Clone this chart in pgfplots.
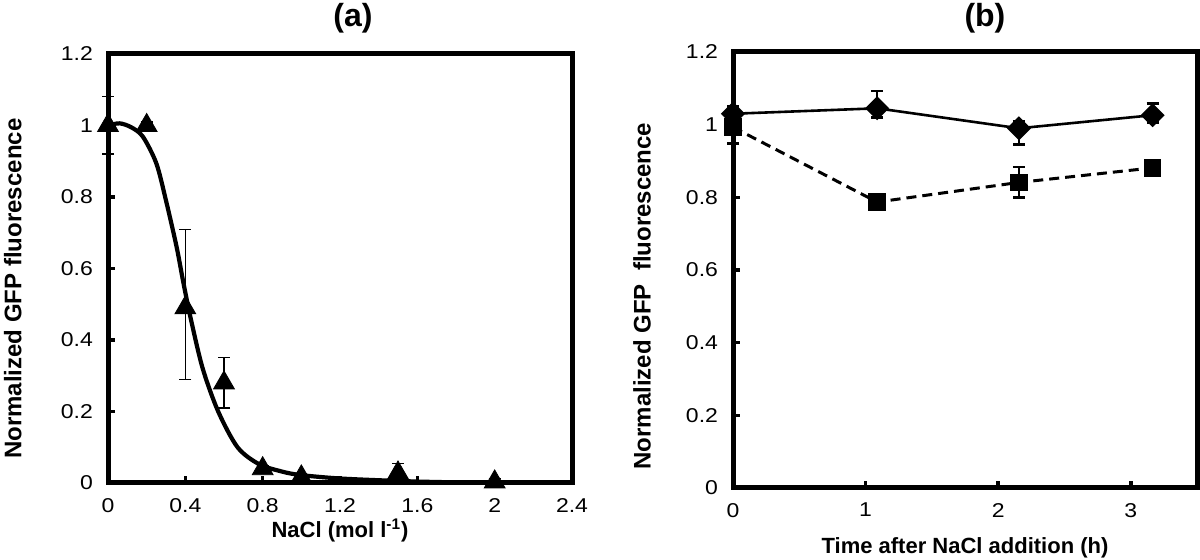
\documentclass[border=0pt]{standalone}
\usepackage{fontspec}
\setmainfont{Liberation Sans}
\newfontfamily\tickfont[FakeStretch=1.15]{Liberation Sans}
\usepackage{pgfplots}
\pgfplotsset{compat=1.18}
\begin{document}
\begin{tikzpicture}
\useasboundingbox (0pt,0pt) rectangle (600pt,280pt);
\pgfplotsset{
  panel/.style={
    scale only axis,
    axis line style={line width=2.5pt, line join=miter},
    clip=false,
    tick align=inside,
    xtick pos=bottom, ytick pos=left,
    major tick length=3.5pt,
    tick style={line width=1.8pt, black},
    /pgf/number format/assume math mode=true,
    tick label style={font=\tickfont\fontsize{10}{12}\selectfont},
    yticklabel style={/pgf/number format/fixed, xshift=-4pt},
    xticklabel style={/pgf/number format/fixed, yshift=-4pt},
    label style={font=\bfseries\fontsize{11}{13}\selectfont},
    title style={font=\bfseries\fontsize{16}{18}\selectfont},
    ymin=0, ymax=1.2,
    ytick={0,0.2,...,1.2},
    yticklabels={0,0.2,0.4,0.6,0.8,1,1.2},
  }
}
% ---------------- panel (a)
\begin{axis}[panel,
  at={(54pt,38.5pt)}, anchor=south west, width=232pt, height=214.5pt,
  xmin=0, xmax=2.4,
  xtick={0,0.4,0.8,1.2,1.6,2,2.4},
  xticklabels={0,0.4,0.8,1.2,1.6,2,2.4},
  xlabel={NaCl (mol l\textsuperscript{-1})},
  ylabel={Normalized GFP fluorescence},
  xlabel style={at={(axis description cs:0.5,-0.11)}, anchor=center},
  ylabel style={font=\bfseries\fontsize{12}{14}\selectfont, at={(axis description cs:-0.205,0.453)}, anchor=center, rotate=0},
  title={(a)},
  title style={at={(axis description cs:0.528,1.0)}, anchor=base, yshift=7.5pt},
]
% error bars
\addplot[black, only marks, mark=none, forget plot,
  error bars/.cd, y dir=both, y explicit,
  error bar style={line width=0.6pt},
  error mark options={rotate=90, mark size=3pt, line width=0.6pt}]
  coordinates {
  (0,1.0) += (0,0.08) -= (0,0.08)
  (0.2,1.0) += (0,0.01) -= (0,0.01)
  (0.4,0.49) += (0,0.22) -= (0,0.20)
  (0.6,0.28) += (0,0.07) -= (0,0.07)
  (0.8,0.04) += (0,0.01) -= (0,0.01)
  (1.0,0.017) += (0,0.01) -= (0,0.01)
  (1.5,0.028) += (0,0.027) -= (0,0.027)
  (2.0,0.003) += (0,0.01) -= (0,0.01)
  };
% fitted curve
\addplot[black, line width=2.1pt, smooth, mark=none] coordinates {
  (0,1.0) (0.06,1.006) (0.12,0.995) (0.18,0.969) (0.25,0.894) (0.30,0.79)
  (0.355,0.66) (0.39,0.56) (0.43,0.455) (0.49,0.32) (0.57,0.20) (0.67,0.10)
  (0.78,0.053) (0.9,0.032) (1.0,0.022) (1.22,0.012) (1.6,0.004) (2.0,0.0)
};
% data points
\addplot[black, only marks, mark=triangle*, mark size=6pt] coordinates {
  (0,1.0) (0.2,1.0) (0.4,0.49) (0.6,0.28) (0.8,0.04) (1.0,0.017) (1.5,0.028) (2.0,0.003)
};
\end{axis}
% ---------------- panel (b)
\begin{axis}[panel,
  at={(366.5pt,36pt)}, anchor=south west, width=232pt, height=218pt,
  xmin=0, xmax=3.5,
  xtick={0,1,2,3},
  xlabel={Time after NaCl addition (h)},
  ylabel={Normalized GFP\ \ fluorescence},
  xlabel style={at={(axis description cs:0.5,-0.138)}, anchor=center},
  ylabel style={font=\bfseries\fontsize{12}{14}\selectfont, at={(axis description cs:-0.196,0.44)}, anchor=center, rotate=0},
  title={(b)},
  title style={at={(axis description cs:0.543,1.0)}, anchor=base, yshift=6.5pt},
]
\addplot[black, only marks, mark=none, forget plot,
  error bars/.cd, y dir=both, y explicit,
  error bar style={line width=1.2pt},
  error mark options={rotate=90, mark size=3pt, line width=1.2pt}]
  coordinates {
  (0,1.03) += (0,0.02) -= (0,0.02)
  (1.087,1.045) += (0,0.048) -= (0,0.025)
  (2.157,0.99) += (0,0.02) -= (0,0.045)
  (3.165,1.026) += (0,0.032) -= (0,0.02)
  (0,0.993) += (0,0.02) -= (0,0.045)
  (1.087,0.787) += (0,0.02) -= (0,0.02)
  (2.157,0.841) += (0,0.042) -= (0,0.041)
  (3.165,0.881) += (0,0.01) -= (0,0.01)
  };
\addplot[black, line width=1.3pt, mark=square*, mark size=3.6pt,
  mark options={rotate=45, solid}] coordinates {
  (0,1.03) (1.087,1.045) (2.157,0.99) (3.165,1.026)
};
\addplot[black, line width=1.5pt, dash pattern=on 5pt off 3pt, mark=square*, mark size=3.7pt,
  mark options={solid}] coordinates {
  (0,0.993) (1.087,0.787) (2.157,0.841) (3.165,0.881)
};
\end{axis}
\end{tikzpicture}
\end{document}
